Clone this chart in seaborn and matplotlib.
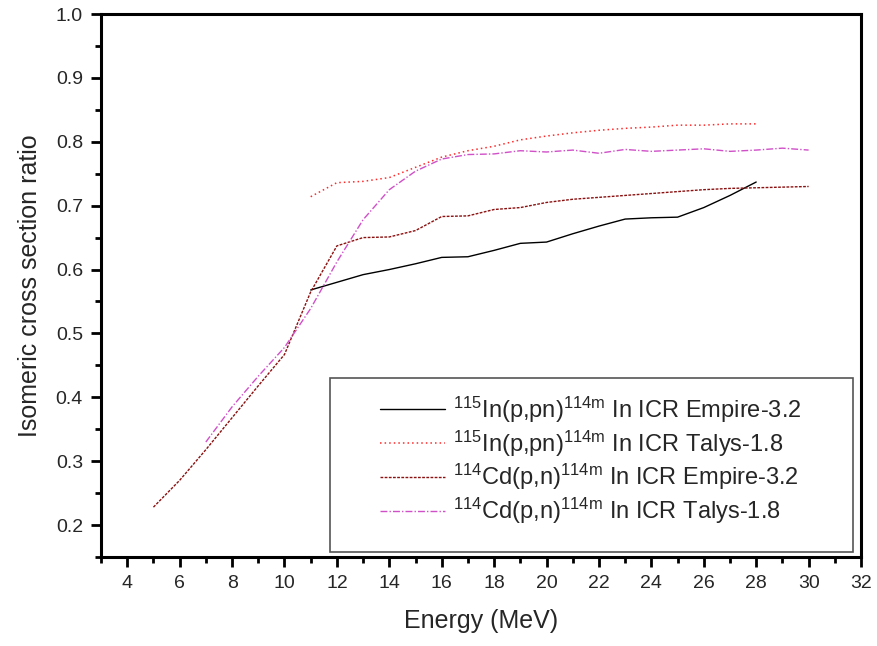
import matplotlib
matplotlib.use("Agg")
import matplotlib.pyplot as plt
from matplotlib.ticker import MultipleLocator, FormatStrFormatter
from matplotlib.patches import Rectangle
import seaborn as sns
import pandas as pd

sns.set_style("white")
plt.rcParams['font.family'] = ['Liberation Sans', 'DejaVu Sans']
plt.rcParams['mathtext.fontset'] = 'custom'
plt.rcParams['mathtext.rm'] = 'Liberation Sans'
plt.rcParams['mathtext.it'] = 'Liberation Sans'

# Data
e_in = [11, 12, 13, 14, 15, 16, 17, 18, 19, 20, 21, 22, 23, 24, 25, 26, 27, 28]
in_empire = [0.568, 0.580, 0.592, 0.600, 0.609, 0.619, 0.620, 0.630, 0.641, 0.643,
             0.656, 0.668, 0.679, 0.681, 0.682, 0.697, 0.716, 0.737]
in_talys = [0.714, 0.736, 0.738, 0.744, 0.760, 0.776, 0.786, 0.793, 0.803, 0.809,
            0.814, 0.818, 0.821, 0.823, 0.826, 0.826, 0.828, 0.828]
e_cd_emp = [5, 6, 7, 8, 9, 10, 11, 12, 13, 14, 15, 16, 17, 18, 19, 20, 21, 22, 23,
            24, 25, 26, 27, 28, 29, 30]
cd_empire = [0.228, 0.270, 0.318, 0.368, 0.418, 0.467, 0.565, 0.637, 0.650, 0.651,
             0.661, 0.683, 0.684, 0.694, 0.697, 0.705, 0.710, 0.713, 0.716, 0.719,
             0.722, 0.725, 0.727, 0.728, 0.729, 0.730]
e_cd_tal = [7, 8, 9, 10, 11, 12, 13, 14, 15, 16, 17, 18, 19, 20, 21, 22, 23, 24,
            25, 26, 27, 28, 29, 30]
cd_talys = [0.330, 0.385, 0.433, 0.478, 0.539, 0.612, 0.678, 0.725, 0.754, 0.773,
            0.780, 0.781, 0.786, 0.784, 0.787, 0.782, 0.788, 0.785, 0.787, 0.789,
            0.785, 0.787, 0.790, 0.787]

labels = [r'$^{115}$In(p,pn)$^{\mathrm{114m}}$ In ICR Empire-3.2',
          r'$^{115}$In(p,pn)$^{\mathrm{114m}}$ In ICR Talys-1.8',
          r'$^{114}$Cd(p,n)$^{\mathrm{114m}}$ In ICR Empire-3.2',
          r'$^{114}$Cd(p,n)$^{\mathrm{114m}}$ In ICR Talys-1.8']
x_ticks = [4, 6, 8, 10, 12, 14, 16, 18, 20, 22, 24, 26, 28, 30, 32]
y_ticks = [0.2, 0.3, 0.4, 0.5, 0.6, 0.7, 0.8, 0.9, 1.0]

fig = plt.figure(figsize=(8.77, 6.46), dpi=100)
ax = fig.add_axes([0.1152, 0.1378, 0.8666, 0.8405])

series = [
    (e_in, in_empire, '#000000', '-', 1.0),
    (e_in, in_talys, '#ff2a2a', (0, (1, 2)), 1.1),
    (e_cd_emp, cd_empire, '#8b1010', (0, (2, 1)), 1.0),
    (e_cd_tal, cd_talys, '#d050c8', (0, (5, 1.5, 1, 1.5)), 1.0),
]
for (x, y, c, ls, lw), lab in zip(series, labels):
    df = pd.DataFrame({'x': x, 'y': y})
    sns.lineplot(data=df, x='x', y='y', ax=ax, color=c, linestyle=ls, linewidth=lw,
                 label=lab, legend=False)

ax.set_xlim(3, 32)
ax.set_ylim(0.15, 1.0)
ax.set_xticks(x_ticks)
ax.set_yticks(y_ticks)
ax.xaxis.set_minor_locator(MultipleLocator(1))
ax.yaxis.set_minor_locator(MultipleLocator(0.05))
ax.yaxis.set_major_formatter(FormatStrFormatter('%.1f'))
ax.tick_params(axis='both', which='major', direction='out', length=7, width=2,
               labelsize=14, color='black', bottom=True, left=True, top=False, right=False, pad=6)
ax.tick_params(axis='both', which='minor', direction='out', length=4.5, width=2,
               color='black', bottom=True, left=True, top=False, right=False)
for s in ax.spines.values():
    s.set_linewidth(2.2)
    s.set_color('black')

ax.set_xlabel('Energy (MeV)', fontsize=18, labelpad=12)
ax.set_ylabel('Isomeric cross section ratio', fontsize=18, labelpad=10)

ax.add_patch(Rectangle((0.301, 0.009), 0.688, 0.321, transform=ax.transAxes,
                       fill=False, edgecolor='#555555', linewidth=1.2, zorder=5))
leg = ax.legend(loc='upper left', bbox_to_anchor=(0.367, 0.299), frameon=False,
                fontsize=17, handlelength=2.75, handletextpad=0.34, labelspacing=0.15,
                borderpad=0, borderaxespad=0)

fig.savefig('out.png', dpi=100)
